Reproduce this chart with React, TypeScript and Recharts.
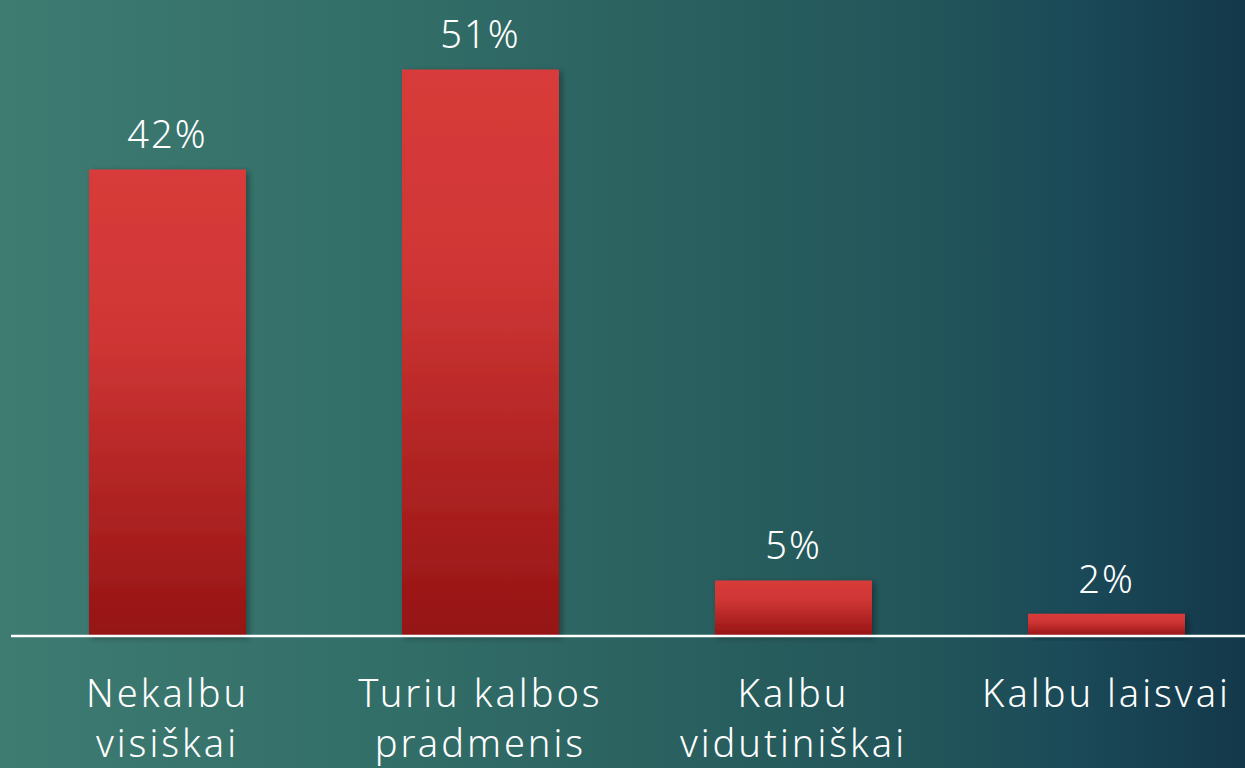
import { BarChart, Bar, XAxis, YAxis, LabelList } from 'recharts';

const categories = ['Nekalbu visiškai', 'Turiu kalbos pradmenis', 'Kalbu vidutiniškai', 'Kalbu laisvai'];
const tickLines = [
  ['Nekalbu', 'visiškai'],
  ['Turiu kalbos', 'pradmenis'],
  ['Kalbu', 'vidutiniškai'],
  ['Kalbu laisvai'],
];
const shares = [42, 51, 5, 2];

const data = categories.map((name, i) => ({ name, value: shares[i] }));

const FONT = '"Noto Sans", "Open Sans", sans-serif';

function WrappedTick({ x, y, index }: { x: number; y: number; index: number }) {
  const lines = tickLines[index] || [];
  return (
    <g transform={`translate(${x},${y})`}>
      <text
        textAnchor="middle"
        fill="#ffffff"
        fontSize={38}
        fontFamily={FONT}
        fontWeight={300}
        letterSpacing={3}
      >
        {lines.map((line, i) => (
          <tspan key={i} x={0} y={71 + i * 50}>
            {line}
          </tspan>
        ))}
      </text>
    </g>
  );
}

export default function App() {
  return (
    <div
      style={{
        position: 'fixed',
        left: 0,
        top: 0,
        width: 1245,
        height: 768,
        overflow: 'hidden',
        background:
          'linear-gradient(90deg, #3e7b71 0%, #336f69 30%, #2a605f 55%, #22555a 75%, #1b4a58 86%, #13384a 100%)',
      }}
    >
      <BarChart width={1263} height={768} data={data} margin={{ top: 25, right: 0, bottom: 0, left: 11 }}>
        <defs>
          <linearGradient id="barGrad" x1="0" y1="0" x2="0" y2="1">
            <stop offset="0%" stopColor="#d83b3a" />
            <stop offset="35%" stopColor="#d03635" />
            <stop offset="100%" stopColor="#951414" />
          </linearGradient>
          <filter id="barShadow" x="-10%" y="-10%" width="130%" height="130%">
            <feDropShadow dx="3" dy="2" stdDeviation="3" floodColor="#000" floodOpacity="0.35" />
          </filter>
        </defs>
        <XAxis
          dataKey="name"
          height={132}
          tickSize={0}
          tickMargin={0}
          tickLine={false}
          axisLine={{ stroke: '#ffffff', strokeWidth: 2.5 }}
          interval={0}
          tick={(props: any) => <WrappedTick {...props} />}
        />
        <YAxis hide domain={[0, 55]} />
        <Bar dataKey="value" fill="url(#barGrad)" barSize={157} isAnimationActive={false} filter="url(#barShadow)">
          <LabelList
            dataKey="value"
            position="top"
            offset={21}
            formatter={(v: any) => `${v}%`}
            fill="#ffffff"
            fontSize={38}
            fontFamily={FONT}
            fontWeight={300}
            letterSpacing={2}
          />
        </Bar>
      </BarChart>
    </div>
  );
}
